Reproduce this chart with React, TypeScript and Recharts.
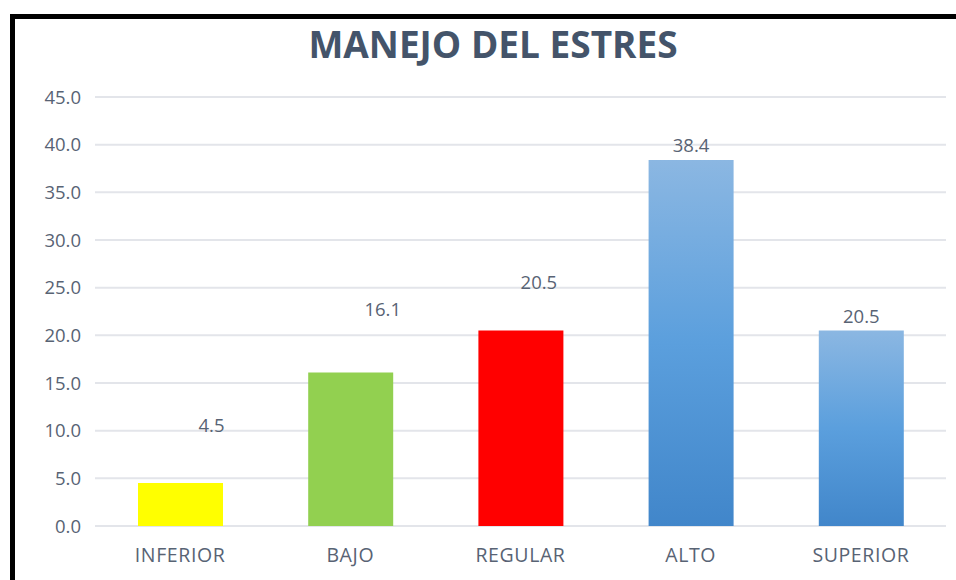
import React from "react";
import { BarChart, Bar, XAxis, YAxis, CartesianGrid, Cell, LabelList } from "recharts";

const categories = ["INFERIOR", "BAJO", "REGULAR", "ALTO", "SUPERIOR"];
const values = [4.5, 16.1, 20.5, 38.4, 20.5];
const yTicks = [0, 5, 10, 15, 20, 25, 30, 35, 40, 45];

const fills = ["#FFFF00", "#92D050", "#FF0000", "url(#blueGrad)", "url(#blueGrad)"];
// manual label nudges (dx, dy) as seen in the reference
const labelNudge = [
  [31, -44],
  [32, -49],
  [18, -34],
  [0, 0],
  [0, 0],
];

const data = categories.map((name, i) => ({ name, value: values[i] }));

const TEXT = "#586374";
const FONT = "'Open Sans', sans-serif";

const renderLabel = (props: any) => {
  const { x, y, width, value, index } = props;
  const [dx, dy] = labelNudge[index] || [0, 0];
  return (
    <text
      x={x + width / 2 + dx}
      y={y - 15 + dy}
      textAnchor="middle"
      dominantBaseline="central"
      fill={TEXT}
      fontSize={18.5}
      fontFamily={FONT}
    >
      {Number(value).toFixed(1)}
    </text>
  );
};

export default function App() {
  return (
    <div style={{ position: "absolute", left: 0, top: 0, width: 956, height: 580, overflow: "hidden", background: "#fff" }}>
      <div
        style={{
          position: "absolute",
          left: 10,
          top: 14,
          width: 1000,
          height: 700,
          borderLeft: "5px solid #000",
          borderTop: "5px solid #000",
          boxSizing: "border-box",
        }}
      />
      <div
        style={{
          position: "absolute",
          left: 0,
          top: 21,
          width: 986,
          textAlign: "center",
          fontFamily: FONT,
          fontWeight: 700,
          fontSize: 37,
          color: "#44546A",
          lineHeight: "46px",
        }}
      >
        MANEJO DEL ESTRES
      </div>
      <div style={{ position: "absolute", left: 0, top: 0 }}>
        <BarChart
          width={956}
          height={580}
          data={data}
          margin={{ top: 97, right: 10, bottom: 24, left: 15 }}
          barCategoryGap="25%"
        >
          <defs>
            <linearGradient id="blueGrad" x1="0" y1="0" x2="0" y2="1">
              <stop offset="0%" stopColor="#8BB7E2" />
              <stop offset="50%" stopColor="#5B9FDD" />
              <stop offset="100%" stopColor="#4186CA" />
            </linearGradient>
          </defs>
          <CartesianGrid vertical={false} stroke="#E3E5EA" strokeWidth={2} />
          <XAxis
            dataKey="name"
            axisLine={false}
            tickLine={false}
            tickSize={0}
            tickMargin={22}
            height={30}
            tick={{ fill: TEXT, fontSize: 19.5, fontFamily: FONT, letterSpacing: 0.6 }}
          />
          <YAxis
            domain={[0, 45]}
            ticks={yTicks}
            interval={0}
            axisLine={false}
            tickLine={false}
            tickSize={0}
            tickMargin={14}
            width={80}
            tickFormatter={(v: number) => v.toFixed(1)}
            tick={{ fill: TEXT, fontSize: 18.5, fontFamily: FONT }}
          />
          <Bar dataKey="value" isAnimationActive={false} barSize={85}>
            {data.map((d, i) => (
              <Cell key={d.name} fill={fills[i]} />
            ))}
            <LabelList dataKey="value" content={renderLabel} />
          </Bar>
        </BarChart>
      </div>
    </div>
  );
}
